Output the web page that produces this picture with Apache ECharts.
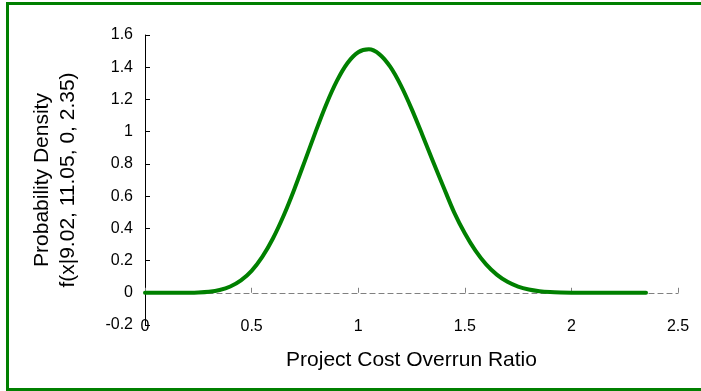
<!DOCTYPE html>
<html>
<head>
<meta charset="utf-8">
<script src="https://cdn.jsdelivr.net/npm/echarts@6/dist/echarts.min.js"></script>
<style>html,body{margin:0;padding:0;background:#fff;}#c{width:701px;height:391px;}</style>
</head>
<body>
<div id="c"></div>
<script>
// Project cost overrun ratio (x) and probability density (y)
var xValues = [0,0.05,0.1,0.15,0.2,0.25,0.3,0.35,0.4,0.45,0.5,0.55,0.6,0.65,0.7,0.75,0.8,0.85,0.9,0.95,1.0,1.05,1.1,1.15,1.2,1.25,1.3,1.35,1.4,1.45,1.5,1.55,1.6,1.65,1.7,1.75,1.8,1.85,1.9,1.95,2.0,2.05,2.1,2.15,2.2,2.25,2.3,2.35];
var densityValues = [0,0,0,0.0001,0.0004,0.0019,0.0064,0.0171,0.0387,0.0766,0.136,0.2225,0.337,0.478,0.6415,0.819,0.999,1.169,1.315,1.426,1.493,1.511,1.48,1.403,1.287,1.143,0.983,0.818,0.657,0.499,0.369,0.261,0.176,0.1126,0.0679,0.0384,0.0201,0.0096,0.0041,0.0016,0.0005,0.0001,0,0,0,0,0,0];
var xTicks = [0,0.5,1,1.5,2,2.5];
var yTicks = [-0.2,0,0.2,0.4,0.6,0.8,1,1.2,1.4,1.6];
var xTitle = 'Project Cost Overrun Ratio';
var yTitle = 'Probability Density\nf(x|9.02, 11.05, 0, 2.35)';

var pts = xValues.map(function(x,i){return [x, densityValues[i]];});
var chart = echarts.init(document.getElementById('c'));
var fontFam = 'Liberation Sans, Arial, sans-serif';
chart.setOption({
  animation:false,
  backgroundColor:'#fff',
  graphic:[{type:'rect',shape:{x:7.5,y:3.5,width:700,height:386},style:{fill:'none',stroke:'#008000',lineWidth:3},z:100}],
  grid:{left:145,right:23,top:35,bottom:66,containLabel:false,outerBoundsMode:'none'},
  xAxis:{type:'value',min:xTicks[0],max:xTicks[xTicks.length-1],interval:0.5,
    axisLine:{onZero:true,lineStyle:{color:'#808080',type:[5,4],width:1.2}},
    axisTick:{inside:true,length:5,lineStyle:{color:'#808080'}},
    axisLabel:{margin:-6,color:'#000',fontSize:16,fontFamily:fontFam},
    splitLine:{show:false},
    name:xTitle,nameLocation:'middle',nameGap:25,
    nameTextStyle:{color:'#000',fontSize:21,fontFamily:fontFam}},
  yAxis:{type:'value',min:yTicks[0],max:yTicks[yTicks.length-1],interval:0.2,
    axisLine:{onZero:false,lineStyle:{color:'#000',width:1}},
    axisTick:{inside:true,length:5,lineStyle:{color:'#000'}},
    axisLabel:{margin:12,color:'#000',fontSize:16,fontFamily:fontFam,
      formatter:function(v){return String(Math.round(v*10)/10);}},
    splitLine:{show:false},
    name:yTitle,nameLocation:'middle',nameRotate:90,nameGap:64,
    nameTextStyle:{color:'#000',fontSize:21,fontFamily:fontFam,lineHeight:26}},
  series:[{type:'line',data:pts,smooth:0.3,showSymbol:false,
    lineStyle:{color:'#008000',width:4,cap:'round',join:'round'},z:3}]
});
</script>
</body>
</html>
